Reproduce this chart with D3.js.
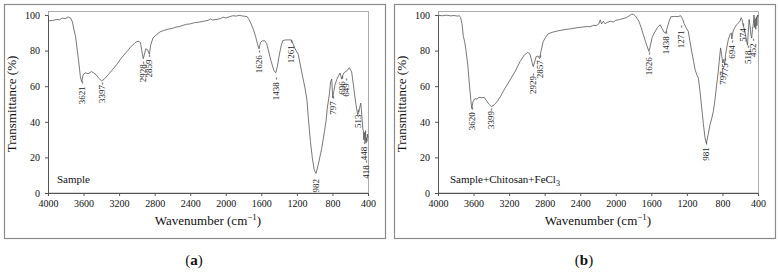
<!DOCTYPE html>
<html lang="en">
    <head>
        <meta charset="utf-8">
        <title>D3: FTIR spectra, two panels</title>
        <script type="text/javascript" src="https://d3js.org/d3.v7.min.js"></script>
        <style type="text/css">
            body { margin: 0; background: #fff; }
            svg { display: block; }
        </style>
    </head>
    <body>
        <script type="text/javascript">
            //Width and height
            var w = 778;
            var h = 272;

            // Spectrum (a): sample
            var specA = [
                [4000, 96.8], [3950, 96.9], [3900, 97.5], [3870, 97.3], [3840, 98.2], [3800, 98.0], [3775, 99.0],
                [3760, 98.6], [3745, 98.3], [3725, 96], [3705, 91], [3690, 88], [3675, 82], [3655, 74], [3635, 65],
                [3621, 62.5], [3605, 66.5], [3580, 67.5], [3550, 67], [3510, 68.2], [3490, 67.6], [3460, 66.5],
                [3430, 64.5], [3397, 63], [3370, 63.8], [3330, 66], [3280, 69], [3230, 72], [3180, 75.5],
                [3120, 79], [3070, 82], [3020, 84.5], [2985, 85.3], [2960, 84.5], [2945, 80], [2928, 75.5],
                [2915, 78], [2900, 81], [2880, 80.5], [2859, 78], [2845, 83], [2820, 87], [2790, 88.5],
                [2740, 90.5], [2700, 91.3], [2650, 92], [2600, 92.5], [2560, 93.2], [2520, 93.5], [2480, 94.2],
                [2440, 94.8], [2400, 95], [2350, 95.7], [2300, 96], [2250, 96.5], [2200, 97], [2170, 97.8],
                [2150, 97.2], [2100, 97.5], [2060, 98], [2030, 98.8], [2000, 98.3], [1960, 99], [1920, 99.6],
                [1880, 99.4], [1850, 99.8], [1820, 99.5], [1790, 99.3], [1760, 99.1], [1740, 97.5], [1715, 95],
                [1690, 92], [1665, 88], [1645, 84], [1626, 81], [1610, 84.5], [1590, 85.5], [1560, 85.5],
                [1540, 84], [1515, 79], [1490, 74], [1460, 69], [1438, 67.5], [1420, 71], [1400, 77],
                [1380, 82], [1360, 85.5], [1330, 86], [1290, 86], [1261, 86], [1245, 84], [1220, 81],
                [1184, 77.7], [1146, 68], [1109, 59], [1086, 52], [1071, 42], [1048, 29], [1026, 19.6],
                [1005, 13], [985, 11], [959, 16], [921, 25], [890, 34.6], [873, 40], [858, 47.7], [836, 55],
                [820, 62.7], [808, 64], [797, 53.5], [785, 57], [770, 61], [752, 63.7], [730, 66], [715, 67.4],
                [696, 64], [678, 67], [660, 68], [640, 68.5], [625, 69.5], [610, 70.4], [584, 68], [565, 61],
                [550, 55], [535, 49.6], [516, 44], [505, 45], [498, 47], [482, 50.5], [475, 47], [467, 42],
                [458, 36], [452, 35], [448, 30], [440, 34], [434, 29], [428, 35], [422, 28], [418, 31],
                [412, 29], [406, 33], [400, 31]
            ];

            // Spectrum (b): sample + chitosan + FeCl3
            var specB = [
                [4000, 99.8], [3950, 99.6], [3900, 99.9], [3860, 99.5], [3820, 99.7], [3780, 99.4], [3760, 99.6],
                [3745, 98.5], [3730, 95], [3715, 88], [3700, 85], [3685, 80], [3665, 72], [3645, 60], [3630, 52],
                [3620, 47.5], [3605, 51.5], [3585, 53], [3560, 52.7], [3540, 53.8], [3510, 53.5], [3480, 53.7],
                [3455, 52], [3430, 50], [3399, 48.5], [3370, 49.5], [3340, 51], [3300, 54], [3250, 58.5],
                [3190, 63.5], [3130, 68.5], [3077, 73.8], [3030, 77.5], [2990, 79], [2965, 78], [2945, 74],
                [2929, 71], [2910, 74], [2896, 76.6], [2875, 77], [2857, 75.5], [2840, 80], [2817, 85],
                [2790, 87.5], [2760, 89.5], [2700, 90.5], [2640, 91.2], [2571, 91.8], [2500, 92.3], [2440, 92.8],
                [2380, 93.2], [2320, 93.5], [2290, 93.4], [2250, 94.2], [2220, 94], [2190, 95], [2175, 97.3],
                [2160, 95], [2140, 96.5], [2120, 95], [2100, 95.8], [2060, 96.5], [2030, 96], [2000, 97],
                [1960, 97.4], [1918, 98], [1880, 98.5], [1850, 99.5], [1820, 100.5], [1800, 100.3], [1780, 99.5],
                [1760, 98], [1740, 96.5], [1715, 93], [1690, 89], [1665, 85], [1645, 82], [1626, 79.5],
                [1610, 83], [1590, 87.5], [1560, 90.5], [1530, 93], [1503, 94.5], [1480, 92.5], [1460, 90.5],
                [1438, 89.8], [1420, 93], [1400, 96.5], [1380, 99], [1340, 99.2], [1300, 99.1], [1271, 99.6],
                [1250, 98], [1230, 95], [1210, 93], [1184, 90.8], [1165, 85], [1146, 79.6], [1125, 74],
                [1108, 69.3], [1085, 66], [1071, 64.6], [1050, 56], [1033, 47.8], [1015, 39], [996, 31],
                [981, 28], [960, 33], [940, 38.4], [920, 42], [902, 45.9], [885, 52], [865, 60.8], [850, 67],
                [836, 74], [821, 81.5], [810, 78], [797, 73], [786, 75], [775, 72], [765, 77.7], [750, 82],
                [735, 86], [715, 89], [700, 90], [694, 86.5], [680, 91], [660, 93], [640, 94.5], [621, 95.5],
                [603, 96.5], [590, 98.5], [580, 97.5], [574, 96], [560, 93], [545, 90], [530, 86], [518, 83],
                [510, 90], [500, 97.5], [490, 94], [480, 89], [471, 87], [462, 92], [452, 95], [445, 100],
                [438, 93], [432, 98], [425, 92], [418, 99], [412, 94], [406, 100], [403, 99], [400, 100]
            ];

            // Peak annotations: wavenumber, transmittance at the label's top end, text
            var peakWnA = [3621, 3397, 2928, 2859, 1626, 1438, 1261, 982, 797, 696, 649, 513, 448, 418];
            var peakTA  = [62.9, 62.4, 74, 78, 80.3, 65.2, 86, 7.9, 54.5, 65.7, 64.6, 47, 29, 18.5];
            var peakTextA = ["3621 -", "3397-", "2928-", "2859 -", "1626 -", "1438 -", "1261 -", "982",
                             "797 -", "696 -", "649 -", "513 -", "448 -", "418 -"];

            var peakWnB = [3620, 3399, 2929, 2857, 1626, 1438, 1271, 981, 797, 775, 694, 574, 518, 452];
            var peakTB  = [48.3, 47.8, 67.4, 77.5, 79.2, 91, 94.4, 28.7, 71.3, 75.8, 86, 95.5, 83, 87];
            var peakTextB = ["3620 -", "3399-", "2929-", "2857 -", "1626 -", "1438 -", "1271 -", "981 -",
                             "797 -", "775 -", "694 -", "574 -", "518 -", "452 -"];

            var xTicks = [4000, 3600, 3200, 2800, 2400, 2000, 1600, 1200, 800, 400];
            var yTicks = [0, 20, 40, 60, 80, 100];

            var serif = "'Liberation Serif', 'Times New Roman', serif";

            //Create SVG element
            var svg = d3.select("body")
                        .append("svg")
                        .attr("width", w)
                        .attr("height", h);

            function drawPanel(ox, spec, peakWn, peakT, peakText, sampleLabel, letter) {
                var g = svg.append("g").attr("transform", "translate(" + ox + ",0)");

                // outer frame
                g.append("rect")
                 .attr("x", 4.5).attr("y", 4.5)
                 .attr("width", 381).attr("height", 234)
                 .attr("fill", "none")
                 .attr("stroke", "#8a8a8a")
                 .attr("stroke-width", 1.2);

                var x = d3.scaleLinear().domain([4000, 400]).range([48, 368]);
                var y = d3.scaleLinear().domain([0, 100]).range([193, 15]);

                // plot box
                g.append("rect")
                 .attr("x", 48.5).attr("y", 11.5)
                 .attr("width", 320).attr("height", 181.5)
                 .attr("fill", "none")
                 .attr("stroke", "#9a9a9a")
                 .attr("stroke-width", 0.8);

                var xAxis = g.append("g")
                 .attr("transform", "translate(0," + 193 + ")")
                 .call(d3.axisBottom(x).tickValues(xTicks).tickFormat(d3.format("d"))
                        .tickSize(3).tickPadding(4).tickSizeOuter(0));
                var yAxis = g.append("g")
                 .attr("transform", "translate(" + 48 + ",0)")
                 .call(d3.axisLeft(y).tickValues(yTicks).tickSize(3).tickPadding(5).tickSizeOuter(0));

                [xAxis, yAxis].forEach(function(a) {
                    a.select(".domain").attr("stroke", "#555");
                    a.selectAll(".tick line").attr("stroke", "#555");
                    a.selectAll("text")
                     .attr("font-family", serif)
                     .attr("font-size", "10px")
                     .attr("fill", "#111");
                });

                // spectrum
                var line = d3.line()
                    .x(function(d) { return x(d[0]); })
                    .y(function(d) { return y(d[1]); });
                g.append("path")
                 .datum(spec)
                 .attr("d", line)
                 .attr("fill", "none")
                 .attr("stroke", "#555")
                 .attr("stroke-width", 0.8);

                // peak labels, rotated, reading upward
                g.selectAll("text.peak")
                 .data(peakWn)
                 .enter()
                 .append("text")
                 .attr("class", "peak")
                 .attr("transform", function(d, i) {
                     return "translate(" + (x(d) + 3) + "," + y(peakT[i]) + ") rotate(-90)";
                 })
                 .attr("text-anchor", "end")
                 .attr("font-family", serif)
                 .attr("font-size", "9px")
                 .attr("fill", "#222")
                 .text(function(d, i) { return peakText[i]; });

                // axis titles
                var xt = g.append("text")
                 .attr("x", 208).attr("y", 225)
                 .attr("text-anchor", "middle")
                 .attr("font-family", serif)
                 .attr("font-size", "13px")
                 .attr("fill", "#111");
                xt.append("tspan").text("Wavenumber (cm");
                xt.append("tspan").attr("dy", -5).attr("font-size", "9px").text("\u22121");
                xt.append("tspan").attr("dy", 5).text(")");

                g.append("text")
                 .attr("transform", "translate(16,104) rotate(-90)")
                 .attr("text-anchor", "middle")
                 .attr("font-family", serif)
                 .attr("font-size", "13px")
                 .attr("fill", "#111")
                 .text("Transmittance (%)");

                // sample name
                var st = g.append("text")
                 .attr("x", sampleLabel[1]).attr("y", 183)
                 .attr("font-family", serif)
                 .attr("font-size", "11px")
                 .attr("fill", "#111");
                st.append("tspan").text(sampleLabel[0]);
                if (sampleLabel[2]) {
                    st.append("tspan").attr("dy", 3).attr("font-size", "8px").text(sampleLabel[2]);
                }

                // panel letter
                var pt = g.append("text")
                 .attr("x", 194).attr("y", 265)
                 .attr("text-anchor", "middle")
                 .attr("font-family", serif)
                 .attr("font-size", "15px")
                 .attr("fill", "#111");
                pt.append("tspan").text("(");
                pt.append("tspan").attr("font-weight", "bold").text(letter);
                pt.append("tspan").text(")");
            }

            drawPanel(0, specA, peakWnA, peakTA, peakTextA, ["Sample", 57, null], "a");
            drawPanel(390, specB, peakWnB, peakTB, peakTextB, ["Sample+Chitosan+FeCl", 60, "3"], "b");
        </script>
    </body>
</html>
